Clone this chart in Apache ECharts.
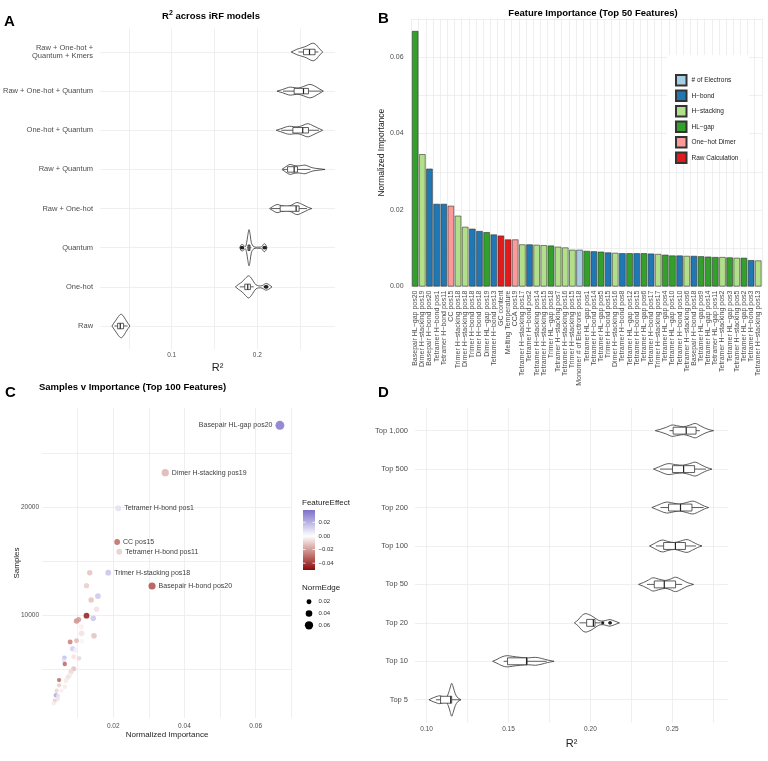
<!DOCTYPE html>
<html>
<head>
<meta charset="utf-8">
<script src="https://cdn.jsdelivr.net/npm/echarts@6/dist/echarts.min.js"></script>
<style>
html, body { margin: 0; padding: 0; background: #fff; }
#main { width: 768px; height: 761px; }
</style>
</head>
<body>
<div id="main"></div>
<script>
// ---- Panel A: R2 across iRF models (violin profile = [r2, relative density]) ----
const A_MODELS = ['Raw', 'One-hot', 'Quantum', 'Raw + One-hot', 'Raw + Quantum',
  'One-hot + Quantum', 'Raw + One-hot + Quantum', 'Raw + One-hot +\nQuantum + Kmers'];
const A_PROFILE = [
  [[0.0302,0],[0.0325,3],[0.035,6],[0.0378,9.5],[0.0407,11.7],[0.0435,10],[0.046,6.5],[0.049,2.5],[0.0512,0]],
  [[0.1744,0],[0.178,2.5],[0.1822,5],[0.186,8.5],[0.1899,11],[0.1935,8],[0.1957,5],[0.1985,2],[0.2016,1],[0.2055,1.2],[0.2085,2.8],[0.2101,3.3],[0.213,2.5],[0.2171,0]],
  [[0.1795,0],[0.1808,2.5],[0.1822,3.3],[0.1838,2.5],[0.186,1],[0.1875,5],[0.1888,12],[0.1903,18],[0.1918,12],[0.193,5],[0.196,1],[0.2018,0.6],[0.205,1],[0.2068,3],[0.2081,4],[0.2097,3],[0.2113,0]],
  [[0.2143,0],[0.218,2],[0.2229,4],[0.228,3],[0.2345,2],[0.240,3.5],[0.2461,6],[0.2515,4.5],[0.2565,2.5],[0.260,1],[0.2636,0]],
  [[0.2287,0],[0.232,2],[0.2355,4],[0.2384,5],[0.2425,4],[0.2475,3.5],[0.2525,4],[0.2558,4.3],[0.260,3],[0.265,1.5],[0.272,0.7],[0.2791,0]],
  [[0.2221,0],[0.2275,1.5],[0.233,3.2],[0.2376,4],[0.2425,3.6],[0.2473,3.5],[0.252,4.5],[0.256,6],[0.2597,6.5],[0.264,5],[0.270,2.5],[0.2763,0]],
  [[0.2229,0],[0.229,1.5],[0.2345,3.2],[0.2384,4],[0.243,3.5],[0.248,3.2],[0.2535,4.5],[0.258,6],[0.2616,6.7],[0.266,5.5],[0.271,3],[0.2771,0]],
  [[0.2395,0],[0.2425,1.2],[0.2461,2.7],[0.2519,4.2],[0.2578,6],[0.2625,8.2],[0.2655,8.7],[0.269,7],[0.2713,4.5],[0.274,2],[0.2763,0]]
];
// [lower whisker, q1, median, q3, upper whisker]
const A_BOX = [
  [0.033, 0.0368, 0.0399, 0.0438, 0.0485],
  [0.1795, 0.1853, 0.1888, 0.1919, 0.1957],
  [0.1878, 0.189, 0.1903, 0.1915, 0.193],
  [0.216, 0.2267, 0.2453, 0.2488, 0.258],
  [0.230, 0.2353, 0.243, 0.2469, 0.262],
  [0.228, 0.2415, 0.253, 0.2597, 0.272],
  [0.230, 0.243, 0.2539, 0.2597, 0.275],
  [0.248, 0.2539, 0.2609, 0.2674, 0.2713]
];
const A_OUTLIERS = [[], [0.2092, 0.21, 0.2108, 0.2112], [0.1815, 0.1822, 0.1828, 0.2078, 0.2085, 0.2092], [], [], [], [], []];
const A_LABEL_TICKS = [0.1, 0.2];
const A_GRID_TICKS = [0.05, 0.1, 0.15, 0.2, 0.25];

// ---- Panel B: feature importance (top 50) ----
const B_FEATURES = ['Basepair HL−gap pos20','Dimer H−stacking pos19','Basepair H−bond pos20','Tetramer H−bond pos1',
  'Tetramer H−bond pos11','CC pos15','Trimer H−stacking pos18','Dimer H−stacking pos18','Trimer H−bond pos18',
  'Dimer H−bond pos18','Dimer HL−gap pos19','Tetramer H−bond pos13','GC content','Melting Temperature','CCA pos19',
  'Tetramer H−stacking pos17','Tetramer H−bond pos2','Tetramer H−stacking pos14','Tetramer H−stacking pos15',
  'Trimer HL−gap pos18','Tetramer H−stacking pos7','Tetramer H−stacking pos16','Trimer H−stacking pos15',
  'Monomer # of Electrons pos18','Tetramer HL−gap pos1','Tetramer H−bond pos14','Tetramer HL−gap pos5',
  'Trimer H−bond pos15','Dimer H−stacking pos16','Tetramer H−bond pos8','Tetramer HL−gap pos12','Tetramer H−bond pos15',
  'Tetramer HL−gap pos6','Tetramer H−bond pos17','Trimer H−stacking pos17','Tetramer HL−gap pos4','Tetramer HL−gap pos10',
  'Tetramer H−bond pos10','Tetramer H−stacking pos6','Basepair H−bond pos18','Tetramer HL−gap pos9','Tetramer HL−gap pos14',
  'Tetramer HL−gap pos11','Tetramer H−stacking pos2','Tetramer HL−gap pos3','Tetramer H−stacking pos5','Tetramer HL−gap pos2',
  'Tetramer H−bond pos3','Tetramer H−stacking pos13'];
const B_IMPORTANCE = [0.0668,0.0346,0.0308,0.0216,0.0216,0.0211,0.0185,0.0156,0.0151,0.0145,0.0142,0.0136,0.0133,0.0123,
  0.0123,0.0110,0.0110,0.0109,0.0108,0.0107,0.0104,0.0102,0.0096,0.0096,0.0093,0.0092,0.0091,0.0089,0.0088,0.0087,0.0087,
  0.0087,0.0087,0.0086,0.0085,0.0083,0.0081,0.0081,0.0080,0.0080,0.0079,0.0078,0.0077,0.0077,0.0076,0.0075,0.0075,0.0069,0.0068];
const B_CATEGORY = ['HL−gap','H−stacking','H−bond','H−bond','H−bond','One−hot Dimer','H−stacking','H−stacking','H−bond',
  'H−bond','HL−gap','H−bond','Raw Calculation','Raw Calculation','One−hot Dimer','H−stacking','H−bond','H−stacking',
  'H−stacking','HL−gap','H−stacking','H−stacking','H−stacking','# of Electrons','HL−gap','H−bond','HL−gap','H−bond',
  'H−stacking','H−bond','HL−gap','H−bond','HL−gap','H−bond','H−stacking','HL−gap','HL−gap','H−bond','H−stacking','H−bond',
  'HL−gap','HL−gap','HL−gap','H−stacking','HL−gap','H−stacking','HL−gap','H−bond','H−stacking'];
const B_CATEGORIES = ['# of Electrons', 'H−bond', 'H−stacking', 'HL−gap', 'One−hot Dimer', 'Raw Calculation'];
const B_COLORS = ['#a6cee3', '#1f78b4', '#b2df8a', '#33a02c', '#fb9a99', '#e31a1c'];

// ---- Panel C: samples vs importance ----
const C_IMPORTANCE = [0.0668,0.0346,0.0214,0.0211,0.0217,0.0186,0.0309,0.0134,0.0125,0.0157,0.0138,0.0153,0.0125,0.0097,
  0.0103,0.0144,0.0110,0.0111,0.0146,0.0079,0.0097,0.0112,0.0086,0.0095,0.0063,0.0062,0.0089,0.0104,0.0064,0.0089,0.0081,
  0.0078,0.0073,0.0048,0.0067,0.0048,0.0064,0.0041,0.0055,0.0039,0.0045,0.0036,0.0033,0.0044];
const C_SAMPLES = [27614,23213,19907,16778,15877,13928,12693,13928,12720,11764,11393,10529,9935,9450,9580,9694,8914,8300,
  8078,7493,7616,7558,6871,6750,6035,5757,6128,5980,5450,5014,4735,4429,4215,3965,3900,3473,3342,2971,2971,2544,2479,2043,1800,2200];
const C_EFFECT = [0.035,-0.015,0.008,-0.03,-0.01,0.015,-0.035,-0.012,-0.01,0.014,-0.012,-0.006,-0.045,-0.022,-0.02,0.014,
  -0.003,-0.006,-0.012,-0.025,-0.014,-0.002,0.012,0.004,0.016,0.008,-0.006,-0.008,-0.03,-0.012,-0.008,-0.004,-0.006,-0.03,
  -0.004,-0.01,-0.004,-0.008,-0.003,0.022,0.008,-0.01,-0.004,-0.006];
const C_EDGE = [0.068,0.048,0.032,0.030,0.032,0.030,0.046,0.025,0.024,0.030,0.026,0.026,0.030,0.026,0.022,0.028,0.026,0.028,
  0.028,0.020,0.020,0.020,0.024,0.022,0.016,0.014,0.020,0.018,0.014,0.022,0.022,0.022,0.020,0.012,0.018,0.012,0.016,0.014,
  0.014,0.014,0.014,0.012,0.012,0.012];
const C_LABEL = ['Basepair HL-gap pos20','Dimer H-stacking pos19','Tetramer H-bond pos1','CC pos15','Tetramer H-bond pos11',
  'Trimer H-stacking pos18','Basepair H-bond pos20'];
const C_X_LABELS = [0.02, 0.04, 0.06];
const C_X_GRID = [0.01, 0.02, 0.03, 0.04, 0.05, 0.06, 0.07];
const C_Y_LABELS = [10000, 20000];
const C_Y_GRID = [5000, 10000, 15000, 20000, 25000];
const C_EFFECT_TICKS = [0.02, 0, -0.02, -0.04];
const C_EDGE_TICKS = [0.02, 0.04, 0.06];

// ---- Panel D: R2 by number of top features ----
const D_SETS = ['Top 5', 'Top 10', 'Top 20', 'Top 50', 'Top 100', 'Top 200', 'Top 500', 'Top 1,000'];
const D_PROFILE = [
  [[0.1014,0],[0.104,2],[0.1065,3.5],[0.1081,4],[0.1098,3],[0.1116,1.5],[0.1132,6],[0.1145,13],[0.1153,16.7],[0.1162,13],[0.1175,6],[0.119,2],[0.121,0]],
  [[0.1403,0],[0.143,2],[0.146,4.5],[0.149,5.7],[0.1525,5],[0.1572,4],[0.162,3.5],[0.1664,4],[0.170,3],[0.174,1.2],[0.1778,0]],
  [[0.1902,0],[0.1925,3],[0.1945,7],[0.1967,9.3],[0.199,8.5],[0.2018,6],[0.204,3.5],[0.2059,2],[0.2083,2],[0.2105,3],[0.212,3.3],[0.2145,2],[0.2177,0]],
  [[0.2294,0],[0.2325,2],[0.2355,4.5],[0.2381,6.7],[0.2415,5.5],[0.2457,4],[0.249,5.5],[0.2519,7.3],[0.2555,5],[0.259,2],[0.263,0]],
  [[0.2361,0],[0.239,2.5],[0.2437,6],[0.2475,4.5],[0.2513,3.5],[0.255,5],[0.259,6.5],[0.2625,4],[0.2655,1.5],[0.2681,0]],
  [[0.2375,0],[0.2405,2],[0.2463,5.5],[0.2505,4.5],[0.2544,3.5],[0.2585,5],[0.2626,6.5],[0.2665,4],[0.2695,1.5],[0.2722,0]],
  [[0.2385,0],[0.2415,2],[0.2473,5.5],[0.252,4.5],[0.2564,4],[0.2605,5.5],[0.264,7],[0.268,4],[0.2712,1.5],[0.2742,0]],
  [[0.2396,0],[0.243,1.5],[0.2465,3.5],[0.2498,5.7],[0.2535,4.8],[0.2569,4],[0.2605,5.5],[0.264,7.3],[0.267,5],[0.270,2.5],[0.2725,1],[0.2752,0]]
];
const D_BOX = [
  [0.1057, 0.1085, 0.1147, 0.1153, 0.1204],
  [0.147, 0.1494, 0.161, 0.1613, 0.1733],
  [0.1933, 0.1977, 0.2018, 0.2028, 0.2063],
  [0.2345, 0.239, 0.2451, 0.252, 0.256],
  [0.240, 0.2447, 0.2519, 0.258, 0.2645],
  [0.2428, 0.2477, 0.255, 0.262, 0.2691],
  [0.2425, 0.2501, 0.2569, 0.2636, 0.2705],
  [0.2483, 0.2505, 0.2585, 0.2645, 0.2668]
];
const D_OUTLIERS = [[], [], [0.2075, 0.2118, 0.2122], [], [], [], [], []];
const D_LABEL_TICKS = [0.10, 0.15, 0.20, 0.25];
const D_GRID_TICKS = [0.1, 0.125, 0.15, 0.175, 0.2, 0.225, 0.25, 0.275];

const FONT = 'Liberation Sans';
const GRID_LINE = { color: '#ebebeb', width: 0.8 };
const TICK_TEXT = '#4d4d4d';
const DENS_K = 1 / 39;   // relative density -> category units
// diverging scale for FeatureEffect, stops at -0.05, -0.025, 0, 0.025, 0.05
const EFF_STOPS = ['#8b0a0a', '#c98580', '#ffffff', '#a69fdc', '#5546b5'];

const chart = echarts.init(document.getElementById('main'));

// violin + boxplot drawn through the axis scales
function violinSeries(idx, profiles, boxes, outliers, boxHalf) {
  return {
    type: 'custom', xAxisIndex: idx, yAxisIndex: idx, z: 3, silent: true,
    data: boxes.map((b, i) => [b[2], i]),
    renderItem: function (params, api) {
      const i = api.value(1);
      const prof = profiles[i], b = boxes[i];
      const pts = [];
      prof.forEach(p => pts.push(api.coord([p[0], i + p[1] * DENS_K])));
      for (let j = prof.length - 1; j >= 0; j--) pts.push(api.coord([prof[j][0], i - prof[j][1] * DENS_K]));
      const ln = { stroke: '#333', lineWidth: 0.8 };
      const lo = api.coord([b[0], i]), q1 = api.coord([b[1], i + boxHalf]);
      const md = api.coord([b[2], i]), q3 = api.coord([b[3], i - boxHalf]), hi = api.coord([b[4], i]);
      const kids = [
        { type: 'polygon', shape: { points: pts, smooth: 0.35 }, style: { fill: '#fff', stroke: '#333', lineWidth: 0.8 } },
        { type: 'line', shape: { x1: lo[0], y1: md[1], x2: q1[0], y2: md[1] }, style: ln },
        { type: 'line', shape: { x1: q3[0], y1: md[1], x2: hi[0], y2: md[1] }, style: ln },
        { type: 'rect', shape: { x: q1[0], y: q1[1], width: q3[0] - q1[0], height: q3[1] - q1[1] }, style: { fill: '#fff', stroke: '#333', lineWidth: 0.8 } },
        { type: 'line', shape: { x1: md[0], y1: q1[1], x2: md[0], y2: q3[1] }, style: { stroke: '#222', lineWidth: 1.2 } }
      ];
      outliers[i].forEach(o => {
        const c = api.coord([o, i]);
        kids.push({ type: 'circle', shape: { cx: c[0], cy: c[1], r: 1.6 }, style: { fill: '#222' } });
      });
      return { type: 'group', children: kids };
    }
  };
}

function catAxis(names) {
  const idx = names.map((n, i) => i);
  return {
    type: 'value', min: -0.6, max: 7.6,
    axisLine: { show: false },
    axisTick: { show: false, customValues: idx },
    axisLabel: { customValues: idx, formatter: v => names[Math.round(v)], fontSize: 7.5, color: TICK_TEXT, margin: 7, fontFamily: FONT },
    splitLine: { show: true, lineStyle: GRID_LINE }
  };
}

function valAxis(min, max, labels, grid, digits, margin) {
  return {
    type: 'value', min: min, max: max,
    axisLine: { show: false },
    axisTick: { show: false, customValues: grid },
    axisLabel: { customValues: labels, formatter: v => v.toFixed(digits), fontSize: 6.5, color: TICK_TEXT, margin: margin, fontFamily: FONT },
    splitLine: { show: true, lineStyle: GRID_LINE }
  };
}

function mixColor(a, b, t) {
  const pa = [1, 3, 5].map(k => parseInt(a.substr(k, 2), 16));
  const pb = [1, 3, 5].map(k => parseInt(b.substr(k, 2), 16));
  return 'rgb(' + pa.map((c, k) => Math.round(c + (pb[k] - c) * t)).join(',') + ')';
}
function effColor(v) {
  const t = Math.max(0, Math.min(1, (v + 0.05) / 0.1)) * (EFF_STOPS.length - 1);
  const k = Math.min(EFF_STOPS.length - 2, Math.floor(t));
  return mixColor(EFF_STOPS[k], EFF_STOPS[k + 1], t - k);
}

// bar series, one per category (for the legend)
const barSeries = B_CATEGORIES.map((cat, k) => ({
  type: 'bar', name: cat, stack: 'imp', xAxisIndex: 1, yAxisIndex: 1, barCategoryGap: '10%',
  itemStyle: { color: B_COLORS[k], borderColor: '#333', borderWidth: 0.6 },
  data: B_IMPORTANCE.map((v, i) => B_CATEGORY[i] === cat ? v : '-')
}));

const scatterData = C_IMPORTANCE.map((x, i) => ({
  value: [x, C_SAMPLES[i], C_EFFECT[i], C_EDGE[i]],
  name: C_LABEL[i] || '',
  label: { position: i === 0 ? 'left' : 'right' }
}));

// colorbar legend for panel C
const cbTop = 510, cbH = 60, cbMin = -0.05, cbMax = 0.038;
const cbY = v => cbTop + (cbMax - v) / (cbMax - cbMin) * cbH;
const cbStops = [];
for (let s = 0; s <= 16; s++) {
  const v = cbMax - (cbMax - cbMin) * s / 16;
  cbStops.push({ offset: s / 16, color: effColor(v) });
}
const cGraphics = [
  { type: 'text', x: 302, y: 503, style: { text: 'FeatureEffect', fontSize: 8, fontFamily: FONT, fill: '#222', verticalAlign: 'middle' } },
  { type: 'rect', shape: { x: 303, y: cbTop, width: 12, height: cbH },
    style: { fill: { type: 'linear', x: 0, y: 0, x2: 0, y2: 1, colorStops: cbStops } } },
  { type: 'text', x: 302, y: 588, style: { text: 'NormEdge', fontSize: 8, fontFamily: FONT, fill: '#222', verticalAlign: 'middle' } },
  { type: 'text', x: 17, y: 563, rotation: Math.PI / 2, style: { text: 'Samples', fontSize: 8, fontFamily: FONT, fill: '#222', align: 'center', verticalAlign: 'middle' } }
];
C_EFFECT_TICKS.forEach(v => {
  const y = cbY(v);
  cGraphics.push({ type: 'line', shape: { x1: 303, y1: y, x2: 305.5, y2: y }, style: { stroke: '#fff', lineWidth: 0.8 } });
  cGraphics.push({ type: 'line', shape: { x1: 312.5, y1: y, x2: 315, y2: y }, style: { stroke: '#fff', lineWidth: 0.8 } });
  cGraphics.push({ type: 'text', x: 318.5, y: y, style: { text: (v < 0 ? '−' : '') + Math.abs(v).toFixed(2), fontSize: 6, fontFamily: FONT, fill: '#333', verticalAlign: 'middle' } });
});
C_EDGE_TICKS.forEach((v, k) => {
  const y = 601.7 + k * 11.8;
  cGraphics.push({ type: 'circle', shape: { cx: 309, cy: y, r: (3.3 + 83 * v) / 2 }, style: { fill: '#000' } });
  cGraphics.push({ type: 'text', x: 318.5, y: y, style: { text: v.toFixed(2), fontSize: 6, fontFamily: FONT, fill: '#333', verticalAlign: 'middle' } });
});

const letter = (t, x, y) => ({ type: 'text', x: x, y: y, style: { text: t, fontSize: 15, fontWeight: 'bold', fontFamily: FONT, fill: '#000' } });
const titleStyle = { fontSize: 9.5, fontWeight: 'bold', fontFamily: FONT, fill: '#000' };

const barSeriesCount = barSeries.length;

const option = {
  animation: false,
  textStyle: { fontFamily: FONT },
  grid: [
    { left: 99, top: 28.5, width: 236, height: 321 },
    { left: 411.6, top: 18.75, width: 350.2, height: 267.75 },
    { left: 42, top: 408, width: 250, height: 310 },
    { left: 415, top: 407.6, width: 313, height: 315.2 }
  ],
  xAxis: [
    Object.assign(valAxis(0.0163, 0.2907, A_LABEL_TICKS, A_GRID_TICKS, 1, 2), {
      gridIndex: 0, name: 'R²', nameLocation: 'middle', nameGap: 13,
      nameTextStyle: { fontSize: 11, color: '#222', fontFamily: FONT }
    }),
    {
      gridIndex: 1, type: 'category', data: B_FEATURES,
      axisLine: { show: false },
      axisTick: { show: false, customValues: B_FEATURES.map((f, i) => i) },
      axisLabel: { interval: 0, rotate: 90, fontSize: 7, color: TICK_TEXT, margin: 4, fontFamily: FONT },
      splitLine: { show: true, lineStyle: GRID_LINE }
    },
    Object.assign(valAxis(0, 0.0702, C_X_LABELS, C_X_GRID, 2, 5), {
      gridIndex: 2, name: 'Normalized Importance', nameLocation: 'middle', nameGap: 11,
      nameTextStyle: { fontSize: 8, color: '#222', fontFamily: FONT }
    }),
    Object.assign(valAxis(0.0929, 0.284, D_LABEL_TICKS, D_GRID_TICKS, 2, 3), {
      gridIndex: 3, name: 'R²', nameLocation: 'middle', nameGap: 16,
      nameTextStyle: { fontSize: 11, color: '#222', fontFamily: FONT }
    })
  ],
  yAxis: [
    Object.assign(catAxis(A_MODELS), { gridIndex: 0 }),
    {
      gridIndex: 1, type: 'value', min: 0, max: 0.07, interval: 0.01,
      axisLine: { show: false }, axisTick: { show: false },
      axisLabel: { formatter: v => (Math.round(v * 100) % 2 === 0 && v < 0.07) ? v.toFixed(2) : '', fontSize: 7, color: TICK_TEXT, margin: 8, fontFamily: FONT },
      splitLine: { show: true, lineStyle: GRID_LINE },
      name: 'Normalized Importance', nameLocation: 'middle', nameGap: 22,
      nameTextStyle: { fontSize: 8.5, color: '#222', fontFamily: FONT }
    },
    Object.assign(valAxis(440, 29220, C_Y_LABELS, C_Y_GRID, 0, 3), { gridIndex: 2 }),
    Object.assign(catAxis(D_SETS), { gridIndex: 3 })
  ],
  legend: {
    data: B_CATEGORIES, orient: 'vertical', left: 675, top: 74, padding: 0,
    itemWidth: 10.5, itemHeight: 10.5, itemGap: 3, icon: 'rect', z: 5,
    textStyle: { fontSize: 6.5, color: '#222', fontFamily: FONT }
  },
  visualMap: {
    type: 'continuous', show: false, seriesIndex: 1 + barSeriesCount, dimension: 2, min: -0.05, max: 0.05,
    inRange: { color: EFF_STOPS }
  },
  graphic: {
    elements: [
      letter('A', 4, 14), letter('B', 378, 11), letter('C', 5, 385), letter('D', 378, 385),
      { type: 'text', x: 211, y: 16, style: {
          text: '{b|R}{s|2}{b| across iRF models}', align: 'center', verticalAlign: 'middle',
          rich: { b: { fontSize: 9.5, fontWeight: 'bold', fontFamily: FONT, lineHeight: 13 },
                  s: { fontSize: 7, fontWeight: 'bold', fontFamily: FONT, verticalAlign: 'top', lineHeight: 13 } } } },
      { type: 'text', x: 593, y: 13, style: Object.assign({ text: 'Feature Importance (Top 50 Features)', align: 'center', verticalAlign: 'middle' }, titleStyle) },
      { type: 'text', x: 39, y: 387, style: Object.assign({ text: 'Samples v Importance (Top 100 Features)', verticalAlign: 'middle' }, titleStyle) },
      { type: 'rect', z: 1, shape: { x: 667, y: 55, width: 82, height: 104 }, style: { fill: '#fff' } },
      { type: 'text', x: 676, y: 65, style: { text: 'Category', fontSize: 8, fontFamily: FONT, fill: '#222', verticalAlign: 'middle' } }
    ].concat(cGraphics)
  },
  series: [
    violinSeries(0, A_PROFILE, A_BOX, A_OUTLIERS, 0.07)
  ].concat(barSeries).concat([
    {
      type: 'scatter', xAxisIndex: 2, yAxisIndex: 2, z: 4,
      data: scatterData,
      symbolSize: v => 3.3 + 83 * v[3],
      itemStyle: { opacity: 0.88 },
      label: { show: true, formatter: p => p.name, fontSize: 7, color: '#222', distance: 3, fontFamily: FONT },
      labelLayout: { hideOverlap: false }
    },
    violinSeries(3, D_PROFILE, D_BOX, D_OUTLIERS, 0.09)
  ])
};

chart.setOption(option);
</script>
</body>
</html>
